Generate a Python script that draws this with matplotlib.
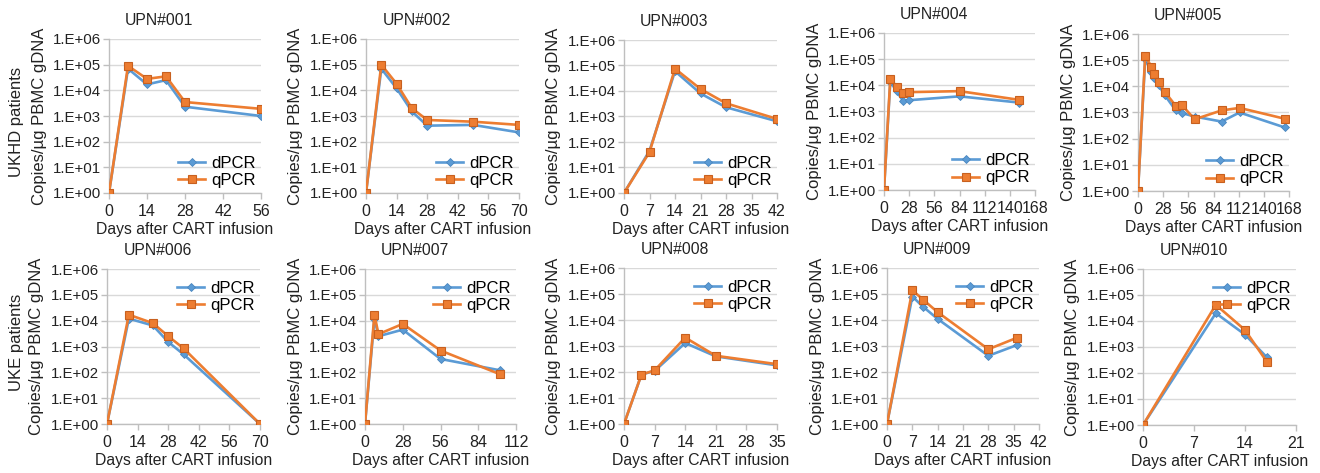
import matplotlib
matplotlib.use("Agg")
import matplotlib.pyplot as plt
from matplotlib.ticker import FixedLocator, FixedFormatter, NullLocator

plt.rcParams['font.family'] = ['Liberation Sans', 'DejaVu Sans']

# ---- data (copies / ug PBMC gDNA) ----
days_001 = [0, 7, 14, 21, 28, 56]
dpcr_001 = [1, 7.0e4, 1.7e4, 2.5e4, 2.3e3, 1.0e3]
qpcr_001 = [1, 9.0e4, 2.8e4, 3.5e4, 3.5e3, 1.9e3]

days_002 = [0, 7, 14, 21, 28, 49, 70]
dpcr_002 = [1, 7.0e4, 1.2e4, 1.5e3, 4.2e2, 4.5e2, 2.3e2]
qpcr_002 = [1, 1.0e5, 1.8e4, 2.0e3, 7.0e2, 6.0e2, 4.5e2]

days_003 = [0, 7, 14, 21, 28, 42]
dpcr_003 = [1, 45, 6.0e4, 8.0e3, 2.3e3, 6.5e2]
qpcr_003 = [1, 40, 7.5e4, 1.2e4, 3.3e3, 8.0e2]

days_004 = [0, 7, 14, 21, 28, 84, 150]
dpcr_004 = [1, 1.4e4, 6.0e3, 2.6e3, 2.7e3, 3.8e3, 2.2e3]
qpcr_004 = [1, 1.8e4, 9.0e3, 5.0e3, 5.5e3, 6.0e3, 2.8e3]

days_005 = [0, 8, 15, 18, 23, 30, 42, 49, 63, 93, 113, 163]
dpcr_005 = [1, 1.1e5, 3.5e4, 2.0e4, 1.1e4, 4.5e3, 1.2e3, 9.5e2, 7.0e2, 4.5e2, 1.0e3, 2.7e2]
qpcr_005 = [1, 1.5e5, 5.5e4, 3.0e4, 1.5e4, 6.0e3, 1.8e3, 1.9e3, 5.5e2, 1.2e3, 1.5e3, 5.8e2]

days_006 = [0, 10, 21, 28, 35, 70]
dpcr_006 = [1, 1.2e4, 6.5e3, 1.5e3, 5.0e2, 1]
qpcr_006 = [1, 1.7e4, 8.0e3, 2.5e3, 8.5e2, 1]

days_007 = [0, 7, 10, 28, 56, 100]
dpcr_007 = [1, 1.2e4, 2.5e3, 4.5e3, 3.3e2, 1.2e2]
qpcr_007 = [1, 1.7e4, 3.0e3, 7.5e3, 7.0e2, 85]

days_008 = [0, 4, 7, 14, 21, 35]
dpcr_008 = [1, 80, 110, 1.3e3, 4.0e2, 1.8e2]
qpcr_008 = [1, 80, 115, 2.1e3, 4.2e2, 2.0e2]

days_009 = [0, 7, 10, 14, 28, 36]
dpcr_009 = [1, 8.0e4, 3.2e4, 1.1e4, 4.2e2, 1.1e3]
qpcr_009 = [1, 1.4e5, 6.0e4, 2.0e4, 7.5e2, 2.1e3]

days_010 = [0, 10, 14, 17]
dpcr_010 = [1, 2.0e4, 3.0e3, 4.0e2]
qpcr_010 = [1, 4.2e4, 4.5e3, 2.7e2]

patients = ['UPN#001', 'UPN#002', 'UPN#003', 'UPN#004', 'UPN#005',
            'UPN#006', 'UPN#007', 'UPN#008', 'UPN#009', 'UPN#010']
days = [days_001, days_002, days_003, days_004, days_005,
        days_006, days_007, days_008, days_009, days_010]
dpcr = [dpcr_001, dpcr_002, dpcr_003, dpcr_004, dpcr_005,
        dpcr_006, dpcr_007, dpcr_008, dpcr_009, dpcr_010]
qpcr = [qpcr_001, qpcr_002, qpcr_003, qpcr_004, qpcr_005,
        qpcr_006, qpcr_007, qpcr_008, qpcr_009, qpcr_010]
x_max = [56, 70, 42, 168, 168, 70, 112, 35, 42, 21]
x_step = [14, 14, 7, 28, 28, 14, 28, 7, 7, 7]
row_labels = ['UKHD patients', 'UKE patients']
y_ticks = [1e0, 1e1, 1e2, 1e3, 1e4, 1e5, 1e6]
y_tick_labels = ['1.E+00', '1.E+01', '1.E+02', '1.E+03', '1.E+04', '1.E+05', '1.E+06']

# ---- layout: plot boxes in pixels (left, right, top, bottom) ----
W, H = 1320, 473
boxes = [(109, 261, 39, 193), (366, 519, 39, 193), (624, 777, 40, 193),
         (884, 1035, 33, 190), (1138, 1289, 34, 191),
         (107, 260, 269, 424), (365, 516, 269, 424), (624, 777, 268, 424),
         (887, 1039, 268, 424), (1143, 1296, 269, 425)]

BLUE = '#5B9BD5'
ORANGE = '#ED7D31'
GRID = '#D9D9D9'
AXIS = '#BFBFBF'
TEXT = '#222222'

fig = plt.figure(figsize=(W / 100, H / 100), dpi=100)

for i, name in enumerate(patients):
    l, r, t, b = boxes[i]
    ax = fig.add_axes([l / W, 1 - b / H, (r - l) / W, (b - t) / H])

    ax.plot(days[i], dpcr[i], color=BLUE, lw=1.9, marker='D', ms=4.5,
            mfc=BLUE, mec='#4A86BE', mew=0.6, label='dPCR', zorder=3)
    ax.plot(days[i], qpcr[i], color=ORANGE, lw=1.9, marker='s', ms=6,
            mfc=ORANGE, mec='#C8601F', mew=0.8, label='qPCR', zorder=4)

    ax.set_yscale('log')
    ax.set_ylim(1, 1e6)
    ax.yaxis.set_major_locator(FixedLocator(y_ticks))
    ax.yaxis.set_major_formatter(FixedFormatter(y_tick_labels))
    ax.yaxis.set_minor_locator(NullLocator())
    ax.set_xlim(0, x_max[i])
    ax.set_xticks(list(range(0, x_max[i] + 1, x_step[i])))

    ax.grid(True, axis='y', color=GRID, lw=1.0)
    ax.set_axisbelow(True)
    for side in ['top', 'right']:
        ax.spines[side].set_visible(False)
    for side in ['left', 'bottom']:
        ax.spines[side].set_color(AXIS)
        ax.spines[side].set_linewidth(1.0)
    ax.tick_params(axis='y', colors=AXIS, labelcolor=TEXT,
                   labelsize=10.8, length=4, width=1.0, pad=2)
    ax.tick_params(axis='x', colors=AXIS, labelcolor=TEXT,
                   labelsize=11.5, length=4, width=1.0, pad=4)

    ax.set_title(name, fontsize=11.3, x=0.33, pad=10, color=TEXT)
    ax.set_xlabel('Days after CART infusion', fontsize=11.3, labelpad=2, color=TEXT)
    ax.set_ylabel('Copies/\u00b5g PBMC gDNA', fontsize=12, color=TEXT)
    ax.yaxis.set_label_coords(-0.41, 0.5)

    if i < 5:
        ax.legend(loc='lower right', bbox_to_anchor=(1.04, -0.045), frameon=False,
                  fontsize=12, handlelength=1.6, handletextpad=0.35,
                  labelspacing=0.15, borderpad=0.2)
    else:
        ax.legend(loc='upper right', bbox_to_anchor=(1.04, 1.0), frameon=False,
                  fontsize=12, handlelength=1.6, handletextpad=0.35,
                  labelspacing=0.15, borderpad=0.2)

fig.text(17 / W, 1 - 122 / H, row_labels[0], rotation=90, ha='center', va='center',
         fontsize=12, color=TEXT)
fig.text(17 / W, 1 - 342 / H, row_labels[1], rotation=90, ha='center', va='center',
         fontsize=12, color=TEXT)

fig.savefig('out.png', dpi=100, facecolor='white')
